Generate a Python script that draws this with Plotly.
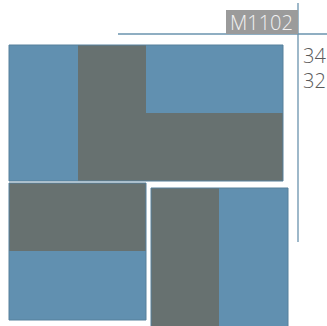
import plotly.graph_objects as go

# Labels
product_code = "M1102"
size_labels = ["34", "32"]

BLUE = "#6190b0"
GRAY = "#677170"
LINE = "#6a93ae"
EDGE = "#56809c"

W, H = 327, 326
fig = go.Figure()
fig.add_trace(go.Scatter(x=[0, W], y=[0, H], mode="markers", marker=dict(opacity=0), hoverinfo="skip", showlegend=False))

shapes = []
def rect(x0, y0, x1, y1, color, edge=None):
    shapes.append(dict(type="rect", xref="x", yref="y", x0=x0, y0=y0, x1=x1, y1=y1,
                       fillcolor=color, line=dict(width=1 if edge else 0, color=edge or color), layer="above"))

# Top tile
rect(9, 45, 78, 181, BLUE)
rect(78, 45, 146, 181, GRAY)
rect(146, 45, 283, 113, BLUE)
rect(146, 113, 283, 181, GRAY)
rect(9, 45, 283, 181, "rgba(0,0,0,0)", EDGE)
# Bottom-left tile
rect(9, 183, 146, 251, GRAY)
rect(9, 251, 146, 320, BLUE)
rect(9, 183, 146, 320, "rgba(0,0,0,0)", EDGE)
# Bottom-right tile
rect(151, 188, 219, 327, GRAY)
rect(219, 188, 288, 327, BLUE)
rect(151, 188, 288, 327, "rgba(0,0,0,0)", EDGE)

# Guide lines
shapes.append(dict(type="line", xref="x", yref="y", x0=118, y0=34, x1=327, y1=34, line=dict(color=LINE, width=1.3)))
shapes.append(dict(type="line", xref="x", yref="y", x0=298, y0=3, x1=298, y1=242, line=dict(color=LINE, width=1.3)))
# Label box
shapes.append(dict(type="rect", xref="x", yref="y", x0=226, y0=10, x1=298, y1=34, fillcolor="#9b9b9b", line=dict(width=0)))

annotations = [
    dict(x=261, y=22, text=product_code, showarrow=False, xref="x", yref="y",
         font=dict(family="Open Sans", size=20, color="#f2f2f2", weight=300), xanchor="center", yanchor="middle"),
]
for i, s in enumerate(size_labels):
    annotations.append(dict(x=301, y=55 + i * 25, text=s, showarrow=False, xref="x", yref="y",
                            font=dict(family="Open Sans", size=20, color="#5a5a5a", weight=300), xanchor="left", yanchor="middle"))

fig.update_layout(
    width=W, height=H, margin=dict(l=0, r=0, t=0, b=0),
    paper_bgcolor="white", plot_bgcolor="white",
    xaxis=dict(range=[0, W], visible=False, fixedrange=True),
    yaxis=dict(range=[H, 0], visible=False, fixedrange=True),
    shapes=shapes, annotations=annotations, showlegend=False,
)
fig.write_html("out.html", config={"displayModeBar": False},
               post_script="document.body.style.margin='0';document.body.style.overflow='hidden';")
